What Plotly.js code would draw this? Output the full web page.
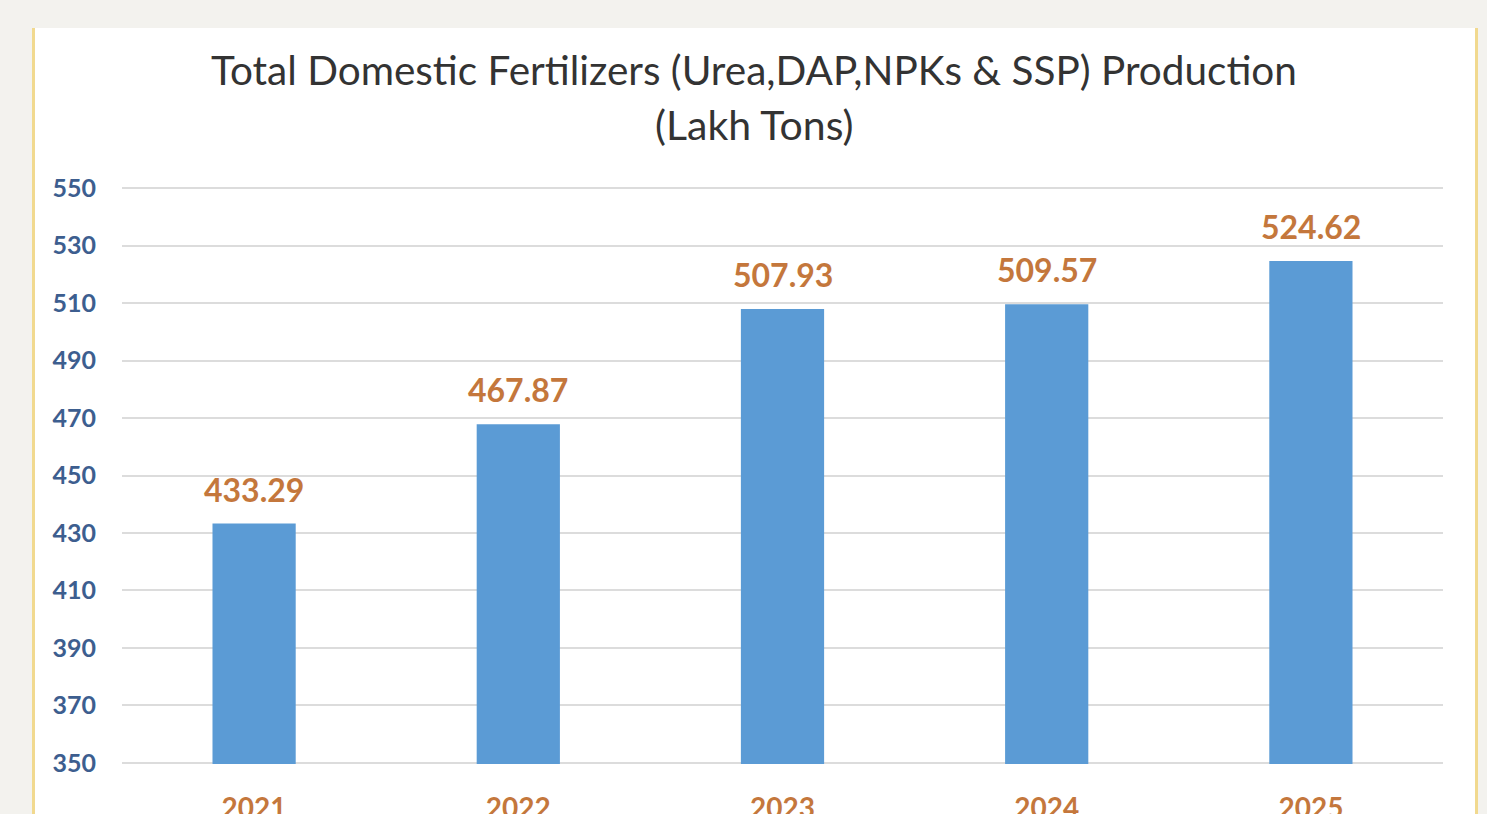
<!DOCTYPE html>
<html>
<head>
<meta charset="utf-8">
<script src="https://cdn.plot.ly/plotly-3.0.1.min.js"></script>
<style>
  html, body { margin: 0; padding: 0; background: #f3f2ee; width: 1487px; height: 814px; overflow: hidden; }
  #panel { position: absolute; left: 32px; top: 28px; width: 1440px; height: 800px; background: #ffffff;
           border-left: 3px solid #f1d98f; border-right: 3px solid #f1d98f; }
  #chart { width: 1440px; height: 800px; }
</style>
</head>
<body>
<div id="panel"><div id="chart"></div></div>
<script>
const years = ['2021', '2022', '2023', '2024', '2025'];
const production = [433.29, 467.87, 507.93, 509.57, 524.62];
const valueLabels = ['433.29', '467.87', '507.93', '509.57', '524.62'];
const yTicks = [350, 370, 390, 410, 430, 450, 470, 490, 510, 530, 550];
const titleLine1 = 'Total Domestic Fertilizers (Urea,DAP,NPKs & SSP) Production';
const titleLine2 = '(Lakh Tons)';

const FONT = 'Lato, "Open Sans", sans-serif';

const trace = {
  type: 'bar',
  x: years,
  y: production,
  width: 0.315,
  marker: { color: '#5b9bd5' },
  hoverinfo: 'x+y'
};

// annotations on a category axis are placed by category index
const annotations = years.map((yr, i) => ({
  x: i, y: production[i], xref: 'x', yref: 'y',
  text: '<b>' + valueLabels[i] + '</b>', showarrow: false, yanchor: 'bottom', yshift: 13,
  font: { family: FONT, size: 32, color: '#c4773c' }
}));
annotations.push({
  xref: 'paper', yref: 'paper', x: 0.4784, y: 1, yanchor: 'middle', yshift: 63,
  text: titleLine2, showarrow: false,
  font: { family: FONT, size: 41, color: '#333333' }
});
annotations.push({
  xref: 'paper', yref: 'paper', x: 0.4784, y: 1, yanchor: 'middle', yshift: 118,
  text: titleLine1, showarrow: false,
  font: { family: FONT, size: 40.5, color: '#333333' }
});

const layout = {
  width: 1440, height: 800,
  margin: { l: 87, r: 32, t: 159, b: 64 },
  paper_bgcolor: '#ffffff', plot_bgcolor: '#ffffff',
  showlegend: false,
  xaxis: {
    type: 'category',
    tickfont: { family: FONT, size: 28, color: '#c4773c' },
    tickprefix: '<b>', ticksuffix: '</b>',
    ticks: 'outside', ticklen: 19, tickcolor: 'rgba(0,0,0,0)',
    showgrid: false, zeroline: false, showline: false
  },
  yaxis: {
    range: [349.6, 550.4],
    tickvals: yTicks,
    ticktext: yTicks.map(v => '<b>' + v + '</b>'),
    tickfont: { family: FONT, size: 25, color: '#3d5e8f' },
    gridcolor: '#dcdcdc', gridwidth: 2,
    zeroline: false, showline: false,
    ticks: 'outside', ticklen: 20, tickcolor: 'rgba(0,0,0,0)'
  },
  annotations: annotations
};

Plotly.newPlot('chart', [trace], layout, { displayModeBar: false, staticPlot: true });
</script>
</body>
</html>
